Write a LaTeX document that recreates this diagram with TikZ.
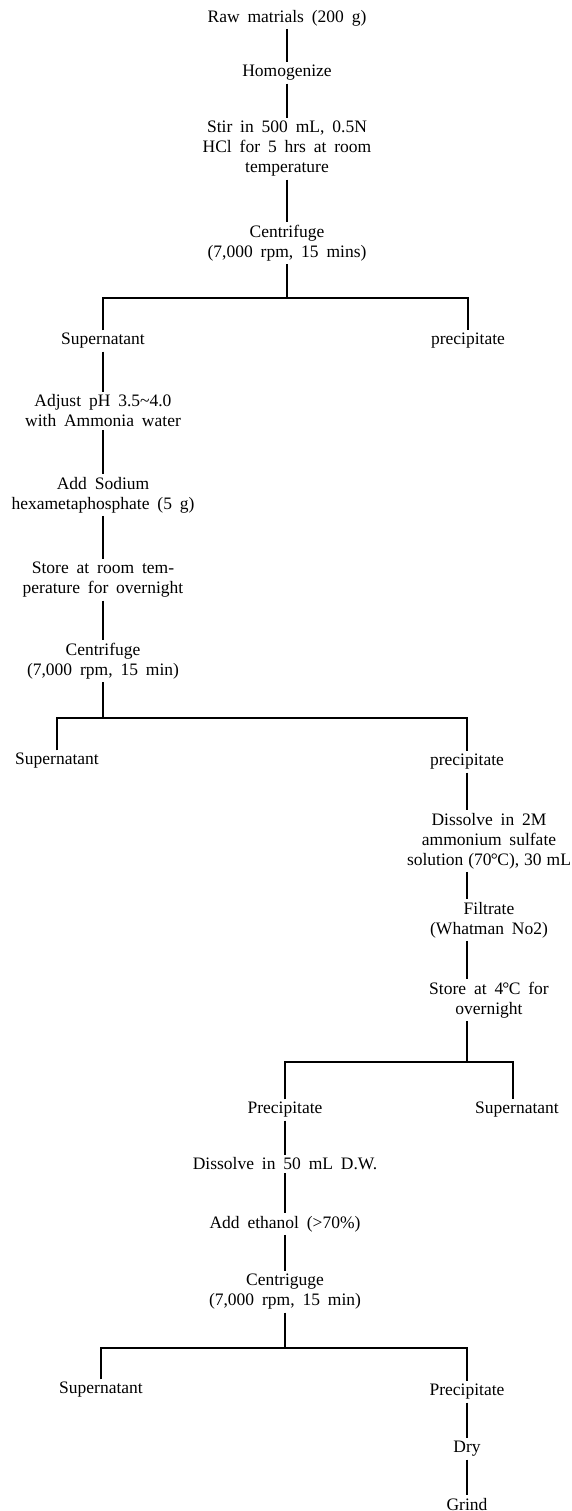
\documentclass[tikz,border=0pt]{standalone}
\usepackage{fontspec}
\setmainfont{Liberation Serif}[WordSpace=1.8]
\newcommand\flowfont{\fontsize{17.5}{20}\selectfont}
\newcommand\degC{\kern-0.8pt°\kern-0.6ptC}
\begin{document}
\begin{tikzpicture}[x=1pt,y=-1pt,
  lbl/.style={font=\flowfont, align=center, inner sep=0pt, outer sep=3pt},
  ln/.style={line width=1.3pt, line join=miter}]
\useasboundingbox (0,0) rectangle (571,1511);
% nodes
\node[lbl] (raw) at (287,18) {Raw matrials (200 g)};
\node[lbl] (hom) at (287,73) {Homogenize};
\node[lbl] (stir) at (287,149) {Stir in 500 mL, 0.5N\\HCl for 5 hrs at room\\temperature};
\node[lbl] (cen1) at (287,243) {Centrifuge\\(7,000 rpm, 15 mins)};
\coordinate (h1) at (287,298);
\node[lbl] (sup1) at (103,341) {Supernatant};
\node[lbl] (pre1) at (468,341) {precipitate};
\node[lbl] (adj) at (103,411) {Adjust pH 3.5\textasciitilde4.0\\with Ammonia water};
\node[lbl] (sod) at (103,495) {Add Sodium\\hexametaphosphate (5 g)};
\node[lbl] (sto) at (103,580) {Store at room tem-\\perature for overnight};
\node[lbl] (cen2) at (103,661) {Centrifuge\\(7,000 rpm, 15 min)};
\coordinate (h2) at (103,718);
\node[lbl] (sup2) at (57,761) {Supernatant};
\node[lbl] (pre2) at (467,762) {precipitate};
\node[lbl] (dis) at (489,841) {Dissolve in 2M\\ammonium sulfate\\solution\hspace{5pt}(70\degC),\hspace{5pt}30\hspace{5pt}mL};
\node[lbl] (fil) at (489,920) {Filtrate\\(Whatman No2)};
\node[lbl] (st4) at (489,1000) {Store at 4\degC\ for\\overnight};
\coordinate (h3) at (467,1062);
\coordinate (r3) at (513,1062);
\node[lbl] (pre3) at (285,1110) {Precipitate};
\node[lbl] (sup3) at (517,1110) {Supernatant};
\node[lbl] (dw) at (285,1164) {Dissolve in 50 mL D.W.};
\node[lbl] (eth) at (285,1224) {Add ethanol (>70\%)};
\node[lbl] (cen3) at (285,1292) {Centriguge\\(7,000 rpm, 15 min)};
\coordinate (h4) at (285,1348);
\node[lbl] (sup4) at (101,1390) {Supernatant};
\node[lbl] (pre4) at (467,1392) {Precipitate};
\node[lbl] (dry) at (467,1449) {Dry};
\node[lbl] (gri) at (467,1504) {Grind};
% connectors
\draw[ln] (raw) -- (hom);
\draw[ln] (hom) -- (stir);
\draw[ln] (stir) -- (cen1);
\draw[ln] (cen1) -- (h1);
\draw[ln] (sup1) -- (sup1 |- h1) -- (pre1 |- h1) -- (pre1);
\draw[ln] (sup1) -- (adj);
\draw[ln] (adj) -- (sod);
\draw[ln] (sod) -- (sto);
\draw[ln] (sto) -- (cen2);
\draw[ln] (cen2) -- (h2);
\draw[ln] (sup2) -- (sup2 |- h2) -- (pre2 |- h2) -- (pre2);
\draw[ln] (pre2) -- (pre2 |- dis.north);
\draw[ln] (pre2 |- dis.south) -- (pre2 |- fil.north);
\draw[ln] (pre2 |- fil.south) -- (pre2 |- st4.north);
\draw[ln] (pre2 |- st4.south) -- (h3);
\draw[ln] (pre3) -- (pre3 |- h3) -- (r3) -- (r3 |- sup3.north);
\draw[ln] (pre3) -- (dw);
\draw[ln] (dw) -- (eth);
\draw[ln] (eth) -- (cen3);
\draw[ln] (cen3) -- (h4);
\draw[ln] (sup4) -- (sup4 |- h4) -- (pre4 |- h4) -- (pre4);
\draw[ln] (pre4) -- (dry);
\draw[ln] (dry) -- (gri);
\end{tikzpicture}
\end{document}
